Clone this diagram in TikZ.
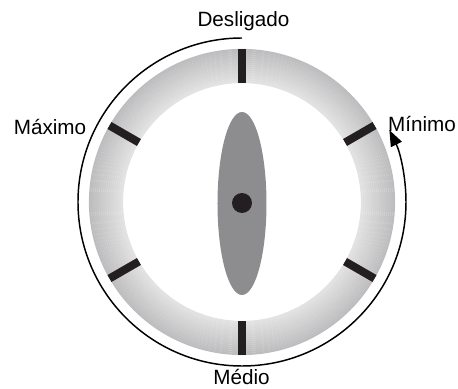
\documentclass[tikz,border=0pt]{standalone}
\usepackage{fontspec}
\setmainfont{Liberation Sans}
\usetikzlibrary{arrows.meta}
\definecolor{ringout}{HTML}{BDBDBF}
\definecolor{ringin}{HTML}{E2E2E2}
\definecolor{knobgray}{HTML}{8D8D8F}
\definecolor{knobdot}{HTML}{231F20}
\begin{document}
\begin{tikzpicture}[
        x=0.75pt, y=0.75pt,
        dialtick/.style={line width=6pt, knobdot},
        dialarc/.style={line width=1.1pt, -{Triangle[length=12pt, width=9pt]}},
        setting/.style={anchor=base, font=\fontsize{15.5}{18}\selectfont}
    ]
        \useasboundingbox (-242,-187) rectangle (216,202);

        % Dial ring, darker towards the rim
        \foreach \i in {0,...,16} {
            \pgfmathsetmacro\mix{100-\i*6.25}
            \draw[ringout!\mix!ringin, line width=1.65pt] (0,0) circle (152-2*\i);
        }
        \foreach \a in {30,90,...,330}
            \draw[dialtick] (\a:119) -- (\a:153);

        % Knob
        \fill[knobgray] (0,-1.5) ellipse [x radius=24.5, y radius=91.5];
        \fill[knobdot] (0,-1) circle (10);

        % Settings
        \node[setting] (desligado) at (1.5,175) {Desligado};
        \node[setting] (maximo) at (-192,67) {Máximo};
        \node[setting] (minimo) at (180,70) {Mínimo};
        \node[setting] (medio) at (-0.5,-183) {Médio};

        % Turning direction
        \coordinate (arcstart) at (90:164);
        \draw[dialarc] (arcstart) arc[start angle=90, end angle=386, radius=164] coordinate (arcend);
    \end{tikzpicture}
\end{document}
